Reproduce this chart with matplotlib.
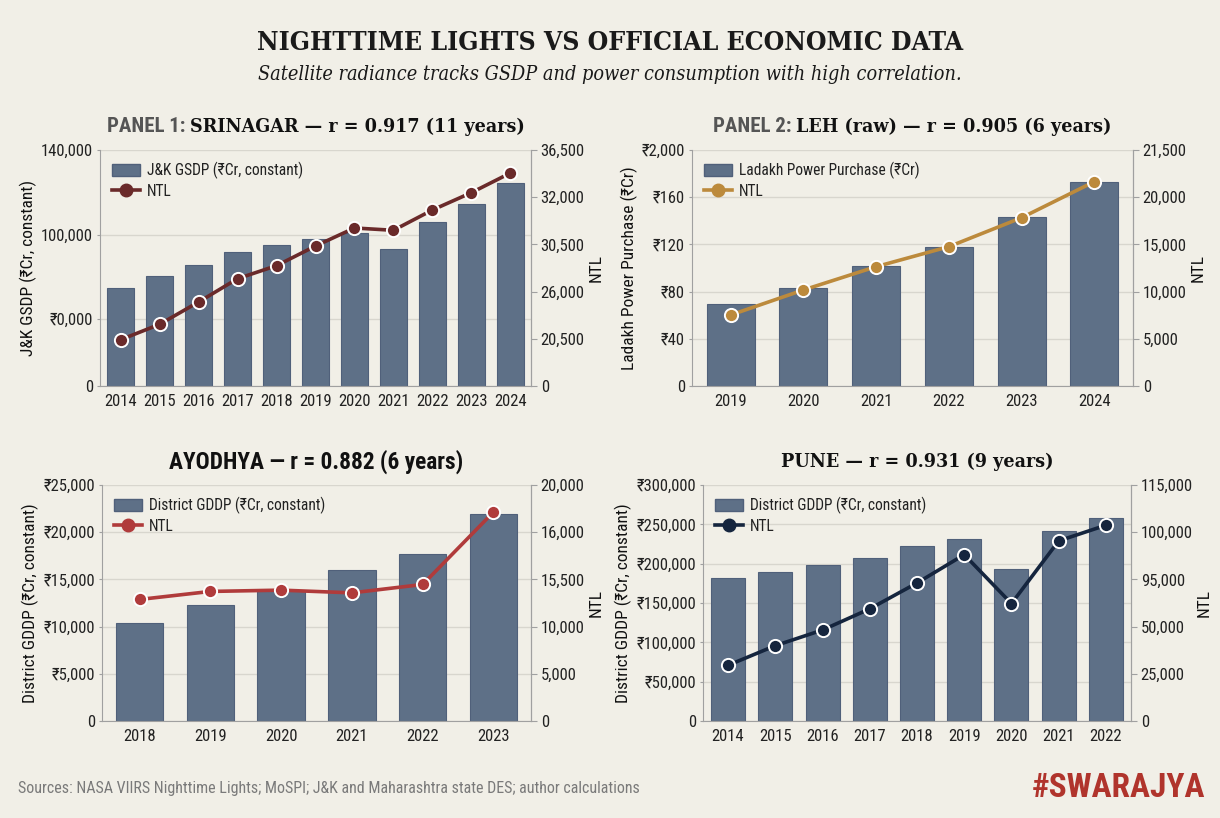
import matplotlib
matplotlib.use('Agg')
import matplotlib.pyplot as plt
from matplotlib.lines import Line2D
from matplotlib.patches import Patch
from matplotlib import font_manager as fm

# ---------------- data ----------------
sri_years = ['2014', '2015', '2016', '2017', '2018', '2019', '2020', '2021', '2022', '2023', '2024']
sri_gsdp = [58300, 65300, 71800, 79500, 83800, 87200, 90900, 81100, 97300, 108100, 120400]
sri_ntl = [7160, 9540, 12990, 16600, 18610, 21650, 24440, 24080, 27220, 29900, 32940]
sri_left_labels = ['0', '₹0,000', '100,000', '140,000']
sri_right_labels = ['0', '20,500', '26,000', '30,500', '32,000', '36,500']

leh_years = ['2019', '2020', '2021', '2022', '2023', '2024']
leh_power = [69.5, 82.8, 101.7, 117.8, 143.2, 173.1]
leh_ntl = [7520, 10170, 12640, 14760, 17830, 21650]
leh_left_labels = ['0', '₹40', '₹80', '₹120', '₹160', '₹2,000']
leh_right_labels = ['0', '5,000', '10,000', '15,000', '20,000', '21,500']

ayo_years = ['2018', '2019', '2020', '2021', '2022', '2023']
ayo_gddp = [10400, 12300, 13800, 16000, 17700, 21900]
ayo_ntl = [10300, 10980, 11090, 10860, 11570, 17710]
ayo_left_labels = ['0', '₹5,000', '₹10,000', '₹15,000', '₹20,000', '₹25,000']
ayo_right_labels = ['0', '5,000', '10,000', '15,500', '16,000', '20,000']

pune_years = ['2014', '2015', '2016', '2017', '2018', '2019', '2020', '2021', '2022']
pune_gddp = [182200, 189800, 198400, 207700, 222100, 231600, 193700, 241300, 257900]
pune_ntl = [29500, 39900, 48200, 59400, 73100, 88100, 62200, 95400, 103700]
pune_left_labels = ['0', '₹50,000', '₹100,000', '₹150,000', '₹200,000', '₹250,000', '₹300,000']
pune_right_labels = ['0', '25,000', '50,000', '95,000', '100,000', '115,000']

# ---------------- fonts ----------------
names = {f.name for f in fm.fontManager.ttflist}

def pick(cands):
    for c in cands:
        if c in names:
            return c
    return 'DejaVu Sans'

SANS = pick(['Liberation Sans Narrow', 'Roboto Condensed', 'DejaVu Sans Condensed', 'Liberation Sans'])
serif_stretch = 'normal'
if 'DejaVu Serif Condensed' in names:
    SERIF = 'DejaVu Serif Condensed'
elif any(f.name == 'DejaVu Serif' and f.stretch == 'condensed' for f in fm.fontManager.ttflist):
    SERIF = 'DejaVu Serif'
    serif_stretch = 'condensed'
else:
    SERIF = 'DejaVu Serif'

SANS_F = [SANS, 'DejaVu Sans']
SERIF_F = [SERIF, 'DejaVu Serif']
plt.rcParams['font.family'] = SANS_F

BG = '#F1EFE7'
BAR = '#5E7087'
BAR_EDGE = '#50607A'
TXT = '#222222'
SPINE = '#a0a0a0'

fig = plt.figure(figsize=(12.2, 8.18), dpi=100, facecolor=BG)

W, H = 1220, 818

def add_axes(x0, x1, ytop, ybot):
    return fig.add_axes([x0 / W, (H - ybot) / H, (x1 - x0) / W, (ybot - ytop) / H])

def panel(ax, years, bars, ntl, ylim_l, lticks, llabels, ylim_r, rlabels,
          bar_label, ylabel, color, width):
    ax.set_facecolor('none')
    x = list(range(len(years)))
    ax.bar(x, bars, width=width, color=BAR, edgecolor=BAR_EDGE, linewidth=0.8, zorder=2)
    ax.set_xlim(-0.53, len(years) - 0.47)
    ax.set_ylim(0, ylim_l)
    ax.set_yticks(lticks)
    ax.set_yticklabels(llabels)
    ax.set_xticks(x)
    ax.set_xticklabels(years)
    ax.grid(axis='y', color='#d8d6ce', linewidth=1.0, zorder=0)
    ax.set_axisbelow(True)
    ax.tick_params(axis='y', labelsize=12, colors=TXT, length=2, color=SPINE, pad=3)
    ax.tick_params(axis='x', labelsize=12, colors=TXT, length=0, pad=6)
    ax.set_ylabel(ylabel, fontsize=12.5, color='#111111', labelpad=3)
    ax.spines['top'].set_visible(False)
    for s in ['left', 'bottom', 'right']:
        ax.spines[s].set_color(SPINE)

    ax2 = ax.twinx()
    ax2.set_ylim(0, ylim_r)
    rt = [ylim_r * i / (len(rlabels) - 1) for i in range(len(rlabels))]
    ax2.set_yticks(rt)
    ax2.set_yticklabels(rlabels)
    ax2.tick_params(axis='y', labelsize=12, colors=TXT, length=4, color=SPINE, pad=3)
    ax2.spines['top'].set_visible(False)
    ax2.spines['right'].set_color(SPINE)
    ax2.spines['left'].set_visible(False)
    ax2.spines['bottom'].set_visible(False)
    ax2.set_ylabel('NTL', fontsize=12.5, color='#111111', labelpad=3)
    ax2.plot(x, ntl, color=color, linewidth=2.6, marker='o', markersize=9.5,
             markerfacecolor=color, markeredgecolor='white', markeredgewidth=1.4, zorder=5)

    handles = [Patch(facecolor=BAR, edgecolor=BAR_EDGE, label=bar_label),
               Line2D([0], [0], color=color, linewidth=2.6, marker='o', markersize=9,
                      markerfacecolor=color, markeredgecolor=color, label='NTL')]
    leg = ax2.legend(handles=handles, loc='upper left', bbox_to_anchor=(0.0, 1.0),
                     frameon=False, fontsize=11.2, handlelength=1.8, handleheight=0.8,
                     labelspacing=0.3, borderaxespad=0.35, handletextpad=0.45)
    for t in leg.get_texts():
        t.set_color(TXT)
    return ax2

ax1 = add_axes(100, 531, 150, 386)
panel(ax1, sri_years, sri_gsdp, sri_ntl, 140000, [0, 39700, 89600, 140000], sri_left_labels,
      36500, sri_right_labels, 'J&K GSDP (₹Cr, constant)', 'J&K GSDP (₹Cr, constant)', '#6A2A2A', 0.7)

ax2 = add_axes(692, 1133, 150, 386)
panel(ax2, leh_years, leh_power, leh_ntl, 200, [0, 40, 80, 120, 160, 200], leh_left_labels,
      25000, leh_right_labels, 'Ladakh Power Purchase (₹Cr)', 'Ladakh Power Purchase (₹Cr)', '#BC8A3C', 0.66)

ax3 = add_axes(102, 531, 485, 721)
panel(ax3, ayo_years, ayo_gddp, ayo_ntl, 25000, [0, 5000, 10000, 15000, 20000, 25000], ayo_left_labels,
      20000, ayo_right_labels, 'District GDDP (₹Cr, constant)', 'District GDDP (₹Cr, constant)', '#B03B3B', 0.67)

ax4 = add_axes(703, 1131, 485, 721)
panel(ax4, pune_years, pune_gddp, pune_ntl, 300000, [0, 50000, 100000, 150000, 200000, 250000, 300000],
      pune_left_labels, 125000, pune_right_labels, 'District GDDP (₹Cr, constant)',
      'District GDDP (₹Cr, constant)', '#15253E', 0.72)

# ---------------- titles ----------------
fig.text(0.5, (H - 42) / H, 'NIGHTTIME LIGHTS VS OFFICIAL ECONOMIC DATA', ha='center', va='center',
         fontsize=19, fontweight='bold', family=SERIF_F, fontstretch=serif_stretch, color='#1a1a1a')
fig.text(0.5, (H - 75) / H, 'Satellite radiance tracks GSDP and power consumption with high correlation.',
         ha='center', va='center', fontsize=14.2, style='italic', family=SERIF_F,
         fontstretch=serif_stretch, color='#1a1a1a')

renderer = fig.canvas.get_renderer()

def panel_title(ax, prefix, main, ypix, main_family, size):
    bb = ax.get_position()
    cx = (bb.x0 + bb.x1) / 2
    y = (H - ypix) / H
    parts = []
    if prefix:
        parts.append(fig.text(0, y, prefix, ha='left', va='center', fontsize=15, fontweight='bold',
                              family=SANS_F, color='#555555'))
    parts.append(fig.text(0, y, main, ha='left', va='center', fontsize=size, fontweight='bold',
                          family=main_family, fontstretch=serif_stretch if main_family is SERIF_F else 'normal',
                          color='#111111'))
    widths = [p.get_window_extent(renderer).width / fig.bbox.width for p in parts]
    start = cx - sum(widths) / 2
    for p, w in zip(parts, widths):
        p.set_x(start)
        start += w

panel_title(ax1, 'PANEL 1: ', 'SRINAGAR — r = 0.917 (11 years)', 127, SERIF_F, 14)
panel_title(ax2, 'PANEL 2: ', 'LEH (raw) — r = 0.905 (6 years)', 127, SERIF_F, 14)
panel_title(ax3, '', 'AYODHYA — r = 0.882 (6 years)', 462, SANS_F, 16.8)
panel_title(ax4, '', 'PUNE — r = 0.931 (9 years)', 462, SERIF_F, 14)

fig.text(18 / W, (H - 788) / H,
         'Sources: NASA VIIRS Nighttime Lights; MoSPI; J&K and Maharashtra state DES; author calculations',
         ha='left', va='center', fontsize=11.5, color='#7a7a7a')
fig.text(1205 / W, (H - 788) / H, '#SWARAJYA', ha='right', va='center', fontsize=24,
         fontweight='bold', color='#B0342C')

fig.savefig('out.png', dpi=100, facecolor=BG)
